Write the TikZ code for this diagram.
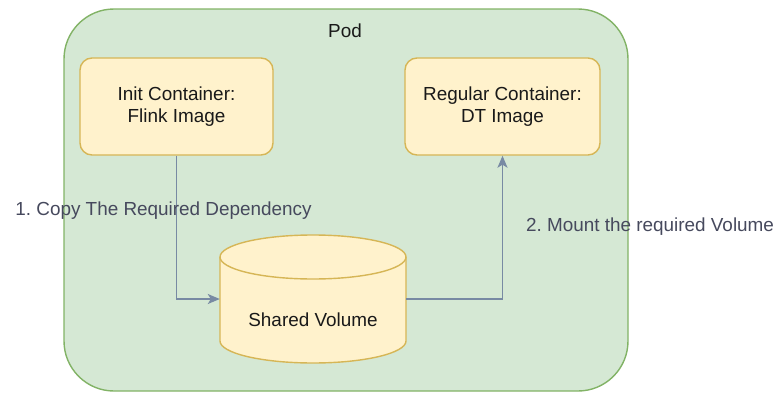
\documentclass[tikz,border=0pt]{standalone}
\usepackage{fontspec}
\setmainfont{Liberation Sans}
\usetikzlibrary{arrows.meta}
\definecolor{podfill}{HTML}{D5E8D4}
\definecolor{podline}{HTML}{82B366}
\definecolor{boxfill}{HTML}{FFF2CC}
\definecolor{boxline}{HTML}{D6B656}
\definecolor{arrcol}{HTML}{788AA3}
\definecolor{lblcol}{HTML}{46495D}
\tikzset{
  podbox/.style={draw=podline, fill=podfill, line width=1.4pt, rounded corners=50pt, inner sep=0pt},
  ctrbox/.style={draw=boxline, fill=boxfill, line width=1.4pt, rounded corners=12pt, inner sep=0pt, align=center, text=black!90},
  arr/.style={draw=arrcol, line width=1.5pt, -{Stealth[length=12pt,width=10pt,inset=3pt]}},
  lbl/.style={text=lblcol, inner sep=0pt},
  txt/.style={font=\fontsize{18.9}{22.5}\selectfont}
}
\begin{document}
\frenchspacing
\begin{tikzpicture}[x=1pt,y=-1pt, every node/.style={txt}]
\useasboundingbox (0,0) rectangle (780,394);
% Pod
\node[podbox, minimum width=564pt, minimum height=382pt] (pod) at (346,200) {};
\node[inner sep=0pt, text=black!90] (podlbl) at (345,31) {Pod};
% containers
\node[ctrbox, minimum width=193pt, minimum height=97pt] (init) at (176.5,106.5) {Init Container:\\Flink Image};
\node[ctrbox, minimum width=195pt, minimum height=97pt] (reg) at (502.5,106.5) {Regular Container:\\DT Image};
% cylinder
\draw[draw=boxline, fill=boxfill, line width=1.4pt]
  (220,257) -- (220,341) arc[start angle=180,end angle=0,x radius=93,y radius=22]
  -- (406,257) arc[start angle=0,end angle=-180,x radius=93,y radius=22] -- cycle;
\draw[draw=boxline, line width=1.4pt] (220,257) arc[start angle=180,end angle=0,x radius=93,y radius=22];
\node[minimum width=186pt, minimum height=128pt, inner sep=0pt] (vol) at (313,299) {};
\node[inner sep=0pt, text=black!90] (vollbl) at (313,320) {Shared Volume};
% connectors
\draw[arr] (init.south) |- (vol.west);
\draw[arr] (vol.east) -| (reg.south);
% labels
\node[lbl] (l1) at (163.5,211) {1. Copy The Required Dependency};
\node[lbl] (l2) at (650,227) {2. Mount the required Volume};
\end{tikzpicture}
\end{document}
